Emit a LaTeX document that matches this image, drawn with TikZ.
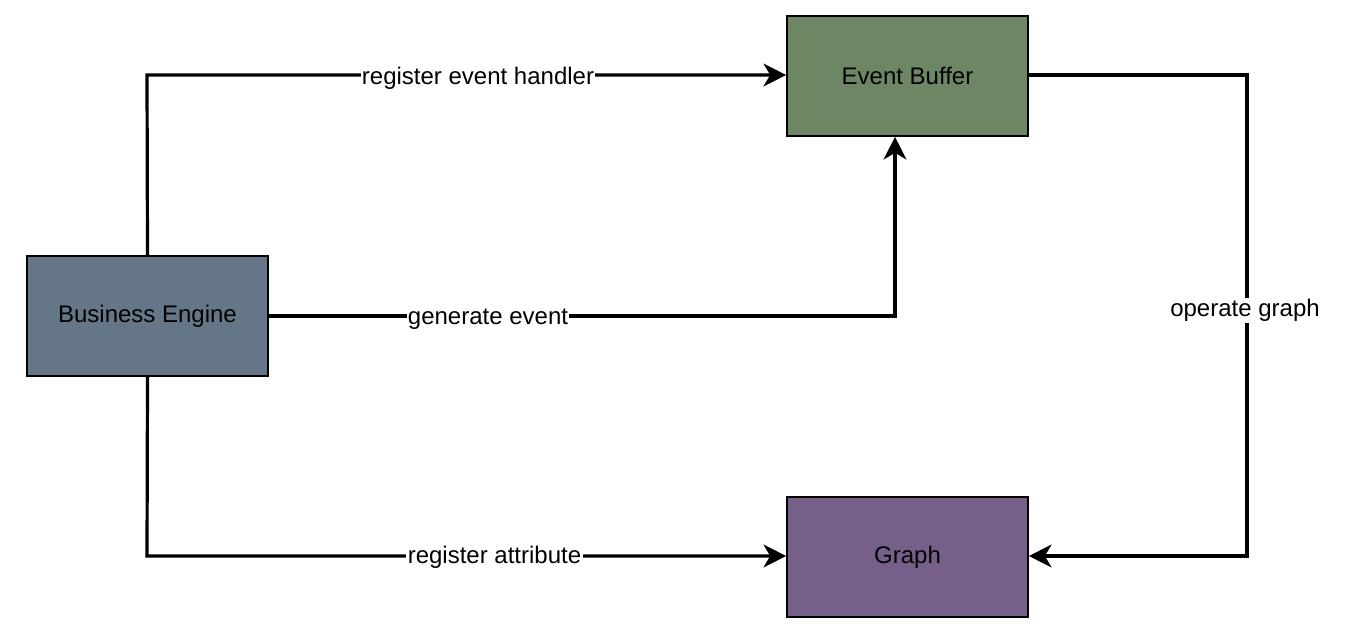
\documentclass[tikz,border=0pt]{standalone}
\usepackage{fontspec}
\setmainfont{Liberation Sans}
\usetikzlibrary{arrows.meta}
\definecolor{beblue}{HTML}{647687}
\definecolor{ebgreen}{HTML}{6D8764}
\definecolor{grpurple}{HTML}{76608A}
\tikzset{
  box/.style={draw=black, line width=1.2pt, minimum width=180.75pt, minimum height=90pt, inner sep=0pt, font=\fontsize{18}{21}\selectfont, text=black},
  conn/.style={line width=2.4pt, -{Stealth[length=17pt, width=17pt, inset=5pt]}},
  lbl/.style={fill=white, inner sep=1pt, font=\fontsize{18}{21}\selectfont}
}
\begin{document}
\begin{tikzpicture}[x=0.75pt, y=-0.75pt]
\useasboundingbox (0,0) rectangle (1364,635);
\node[box, fill=beblue] (be) at (147.5,316) {\raisebox{-1.5pt}{Business Engine}};
\node[box, fill=ebgreen] (eb) at (907.5,76) {\raisebox{-1.5pt}{Event Buffer}};
\node[box, fill=grpurple] (gr) at (907.5,557) {\raisebox{-1.5pt}{Graph}};
\coordinate (c1) at (147,75);
\coordinate (c2) at (895,316);
\coordinate (c3) at (147,556);
\coordinate (c4) at (1247,75);
\coordinate (c5) at (1247,556);
\draw[conn] (be.north) -- (c1) -- (eb.west |- c1);
\draw[conn] (be.east |- c2) -- (c2) -- (eb.south -| c2);
\draw[conn] (be.south) -- (c3) -- (gr.west |- c3);
\draw[conn] (eb.east |- c4) -- (c4) -- (c5) -- (gr.east |- c5);
\node[lbl] (l1) at (478,78.5) {register event handler};
\node[lbl] (l2) at (488,319) {generate event};
\node[lbl] (l3) at (494.5,557.5) {register attribute};
\node[lbl] (l4) at (1245,310.5) {operate graph};
\end{tikzpicture}
\end{document}
